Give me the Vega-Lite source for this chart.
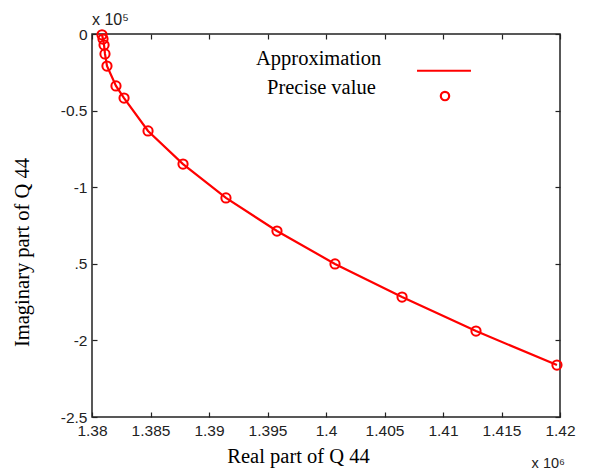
{
  "$schema": "https://vega.github.io/schema/vega-lite/v6.json",
  "width": 468,
  "height": 383,
  "autosize": {"type": "none"},
  "padding": {"left": 92, "top": 34, "right": 34, "bottom": 58},
  "background": "white",
  "config": {
    "view": {"stroke": "#222", "strokeWidth": 1.5},
    "font": "Liberation Sans",
    "axis": {
      "grid": false,
      "domain": false,
      "labelFlush": false,
      "tickColor": "#222",
      "tickSize": -5,
      "tickWidth": 1.2,
      "labelFont": "Liberation Sans",
      "labelFontSize": 15.5,
      "labelColor": "#222",
      "titleFont": "Liberation Serif",
      "titleFontSize": 20.5,
      "titleFontWeight": "normal",
      "titleColor": "#000"
    }
  },
  "data": {
    "values": [
      {"re": 1.380855, "im": -0.005},
      {"re": 1.38094, "im": -0.033},
      {"re": 1.38103, "im": -0.072},
      {"re": 1.38111, "im": -0.13},
      {"re": 1.38128, "im": -0.209},
      {"re": 1.38205, "im": -0.339},
      {"re": 1.38274, "im": -0.418},
      {"re": 1.38479, "im": -0.633},
      {"re": 1.38778, "im": -0.849},
      {"re": 1.39145, "im": -1.07},
      {"re": 1.39581, "im": -1.286},
      {"re": 1.40077, "im": -1.501},
      {"re": 1.4065, "im": -1.717},
      {"re": 1.41282, "im": -1.939},
      {"re": 1.41974, "im": -2.161}
    ]
  },
  "resolve": {"axis": {"x": "independent", "y": "independent"}},
  "layer": [
    {
      "mark": {"type": "line", "color": "#ff0000", "strokeWidth": 2.2, "clip": true},
      "encoding": {
        "x": {
          "field": "re", "type": "quantitative",
          "scale": {"domain": [1.38, 1.42], "nice": false, "zero": false},
          "axis": {
            "orient": "bottom",
            "values": [1.38, 1.385, 1.39, 1.395, 1.4, 1.405, 1.41, 1.415, 1.42],
            "labelExpr": "'' + datum.value",
            "labelPadding": 11,
            "title": "Real part of Q 44",
            "titlePadding": 8,
            "titleX": 206
          }
        },
        "y": {
          "field": "im", "type": "quantitative",
          "scale": {"domain": [-2.5, 0], "nice": false, "zero": false},
          "axis": {
            "orient": "left",
            "values": [0, -0.5, -1, -1.5, -2, -2.5],
            "labelExpr": "datum.value == -1.5 ? '.5' : '' + datum.value",
            "labelPadding": 10,
            "title": "Imaginary part of Q 44",
            "titlePadding": 28,
            "titleY": 218
          }
        }
      }
    },
    {
      "mark": {"type": "point", "shape": "circle", "filled": false, "opacity": 1, "color": "#ff0000", "strokeWidth": 2, "size": 85},
      "encoding": {
        "x": {
          "field": "re", "type": "quantitative",
          "axis": {
            "orient": "top",
            "values": [1.38, 1.385, 1.39, 1.395, 1.4, 1.405, 1.41, 1.415, 1.42],
            "labels": false,
            "title": null
          }
        },
        "y": {
          "field": "im", "type": "quantitative",
          "axis": {
            "orient": "right",
            "values": [0, -0.5, -1, -1.5, -2, -2.5],
            "labels": false,
            "title": null
          }
        }
      }
    },
    {
      "data": {"values": [{}]},
      "mark": {"type": "text", "font": "Liberation Serif", "fontSize": 20.5, "align": "left", "baseline": "middle", "color": "#000"},
      "encoding": {
        "x": {"datum": 1.39402, "type": "quantitative", "axis": null},
        "y": {"datum": -0.163, "type": "quantitative", "axis": null},
        "text": {"value": "Approximation"}
      }
    },
    {
      "data": {"values": [{}]},
      "mark": {"type": "text", "font": "Liberation Serif", "fontSize": 20.5, "align": "left", "baseline": "middle", "color": "#000"},
      "encoding": {
        "x": {"datum": 1.39496, "type": "quantitative", "axis": null},
        "y": {"datum": -0.35, "type": "quantitative", "axis": null},
        "text": {"value": "Precise value"}
      }
    },
    {
      "data": {"values": [{}]},
      "mark": {"type": "rule", "color": "#ff0000", "strokeWidth": 2.2},
      "encoding": {
        "x": {"datum": 1.40778, "type": "quantitative", "axis": null},
        "x2": {"datum": 1.41239},
        "y": {"datum": -0.24, "type": "quantitative", "axis": null}
      }
    },
    {
      "data": {"values": [{}]},
      "mark": {"type": "point", "shape": "circle", "filled": false, "opacity": 1, "color": "#ff0000", "strokeWidth": 2.2, "size": 70},
      "encoding": {
        "x": {"datum": 1.41017, "type": "quantitative", "axis": null},
        "y": {"datum": -0.405, "type": "quantitative", "axis": null}
      }
    },
    {
      "data": {"values": [{}]},
      "mark": {"type": "text", "font": "Liberation Sans", "fontSize": 16, "align": "left", "baseline": "alphabetic", "dy": -9, "dx": 0, "color": "#222"},
      "encoding": {
        "x": {"datum": 1.38, "type": "quantitative", "axis": null},
        "y": {"datum": 0, "type": "quantitative", "axis": null},
        "text": {"value": "x 10⁵"}
      }
    },
    {
      "data": {"values": [{}]},
      "mark": {"type": "text", "font": "Liberation Sans", "fontSize": 14.5, "align": "right", "baseline": "alphabetic", "dy": 51, "dx": 5, "color": "#222"},
      "encoding": {
        "x": {"datum": 1.42, "type": "quantitative", "axis": null},
        "y": {"datum": -2.5, "type": "quantitative", "axis": null},
        "text": {"value": "x 10⁶"}
      }
    }
  ]
}
